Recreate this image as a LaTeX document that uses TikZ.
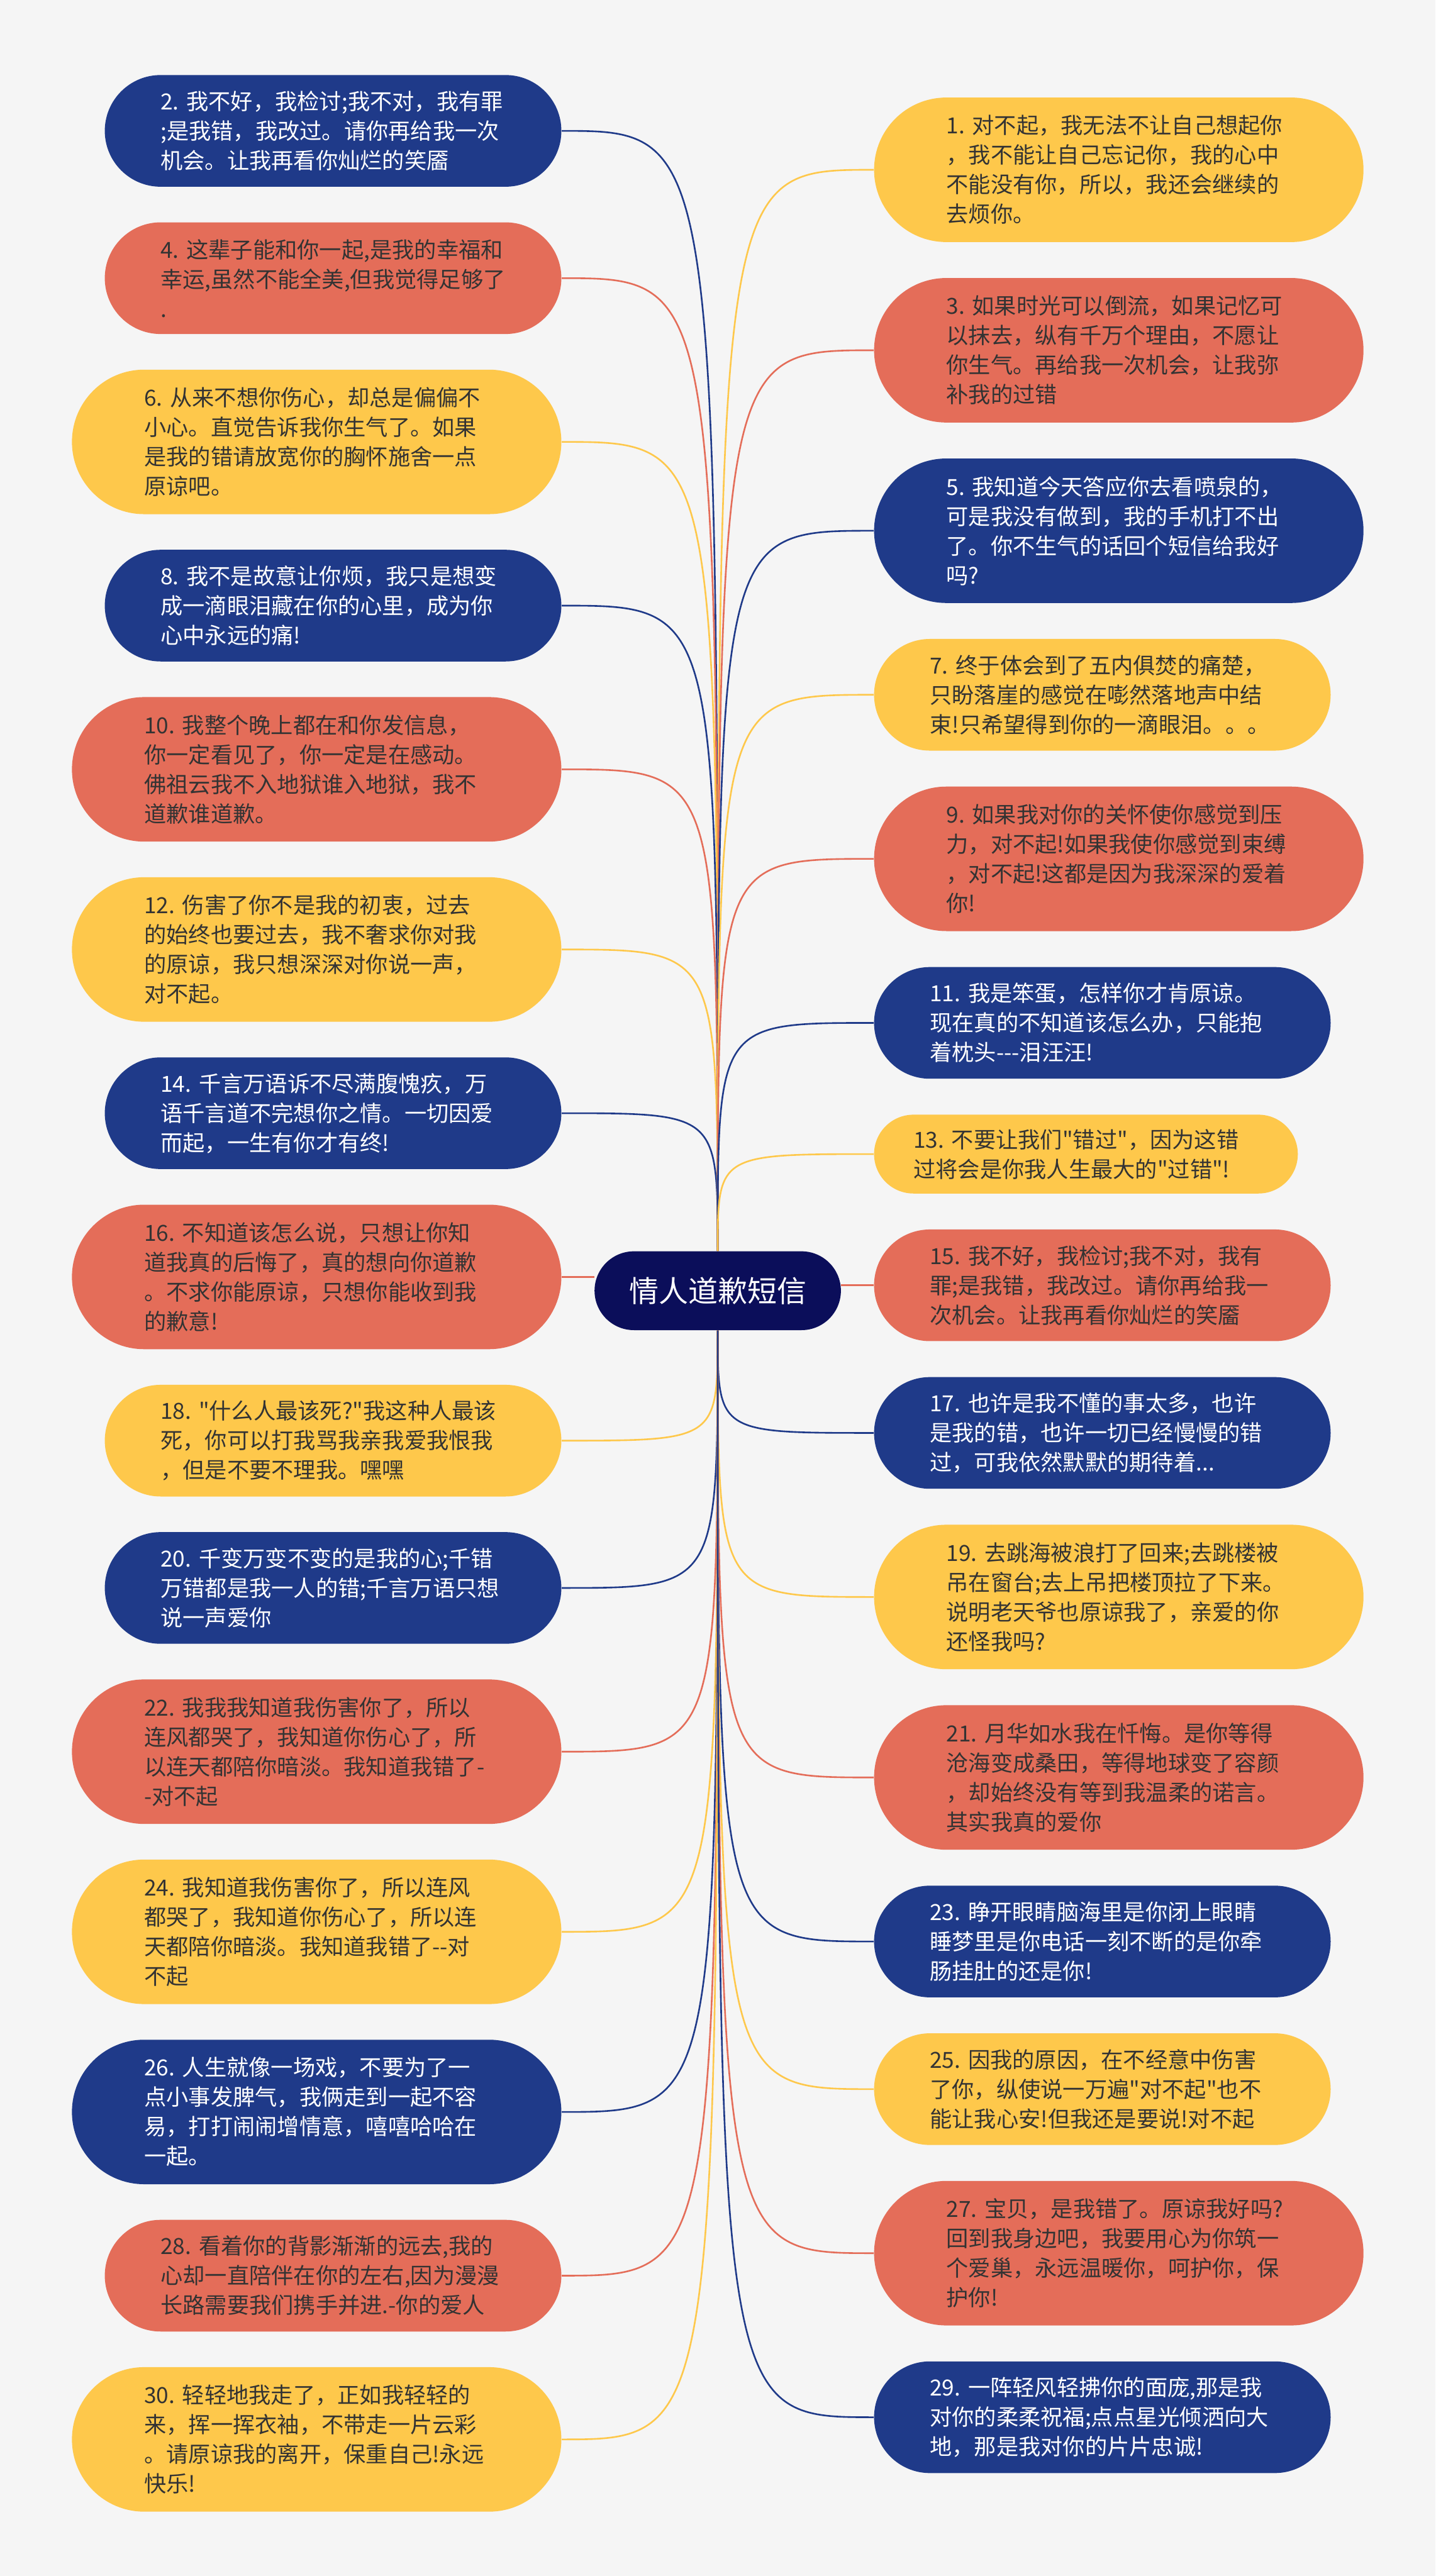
\documentclass[tikz,border=0pt]{standalone}
\usepackage{fontspec}
\newfontfamily\msgfont{Noto Sans CJK SC}
\usepackage{xcolor}
\usepackage{tikz}
\usetikzlibrary{positioning}
\definecolor{paper}{HTML}{F5F5F5}
\definecolor{hubnavy}{HTML}{0B0E5A}
\definecolor{msgblue}{HTML}{1F3A89}
\definecolor{coral}{HTML}{E46D59}
\definecolor{amber}{HTML}{FEC84B}
\definecolor{ink}{HTML}{333333}
\hyphenpenalty=10000
\exhyphenpenalty=10000

\begin{document}
\begin{tikzpicture}[
  x=1pt, y=-1pt,
  font=\msgfont\fontsize{13.5}{18}\selectfont,
  msg/.style={rectangle, text width=210pt, align=left, inner ysep=0pt},
  rows2/.style={minimum height=48pt, rounded corners=24pt, inner xsep=24pt},
  rows3/.style={minimum height=68pt, rounded corners=34pt, inner xsep=34pt},
  rows4/.style={minimum height=88pt, rounded corners=44pt, inner xsep=44pt},
  bluemsg/.style={fill=msgblue, text=white},
  coralmsg/.style={fill=coral, text=ink},
  ambermsg/.style={fill=amber, text=ink},
  hub/.style={fill=hubnavy, text=white, font=\msgfont\fontsize{18}{22}\selectfont, minimum height=48pt, rounded corners=24pt, inner xsep=21pt},
  link/.style={line width=1pt}
]
\fill[paper] (0,0) rectangle (874,1568.7);
\useasboundingbox (0,0) rectangle (874,1568.7);

\node[hub] (root) at (437,786) {情人道歉短信};

% left column
\node[msg, rows3, bluemsg, anchor=north east] (n2) at (342,45.5) {2.~我不好，我检讨;我不对，我有罪\\;是我错，我改过。请你再给我一次\\机会。让我再看你灿烂的笑靥};
\node[msg, rows3, coralmsg, below=21.3pt of n2.south east, anchor=north east] (n4) {4.~这辈子能和你一起,是我的幸福和\\幸运,虽然不能全美,但我觉得足够了\\.};
\node[msg, rows4, ambermsg, below=21.3pt of n4.south east, anchor=north east] (n6) {6.~从来不想你伤心，却总是偏偏不\\小心。直觉告诉我你生气了。如果\\是我的错请放宽你的胸怀施舍一点\\原谅吧。};
\node[msg, rows3, bluemsg, below=21.3pt of n6.south east, anchor=north east] (n8) {8.~我不是故意让你烦，我只是想变\\成一滴眼泪藏在你的心里，成为你\\心中永远的痛!};
\node[msg, rows4, coralmsg, below=21.3pt of n8.south east, anchor=north east] (n10) {10.~我整个晚上都在和你发信息，\\你一定看见了，你一定是在感动。\\佛祖云我不入地狱谁入地狱，我不\\道歉谁道歉。};
\node[msg, rows4, ambermsg, below=21.3pt of n10.south east, anchor=north east] (n12) {12.~伤害了你不是我的初衷，过去\\的始终也要过去，我不奢求你对我\\的原谅，我只想深深对你说一声，\\对不起。};
\node[msg, rows3, bluemsg, below=21.3pt of n12.south east, anchor=north east] (n14) {14.~千言万语诉不尽满腹愧疚，万\\语千言道不完想你之情。一切因爱\\而起，一生有你才有终!};
\node[msg, rows4, coralmsg, below=21.3pt of n14.south east, anchor=north east] (n16) {16.~不知道该怎么说，只想让你知\\道我真的后悔了，真的想向你道歉\\。不求你能原谅，只想你能收到我\\的歉意!};
\node[msg, rows3, ambermsg, below=21.3pt of n16.south east, anchor=north east] (n18) {18.~"什么人最该死?"我这种人最该\\死，你可以打我骂我亲我爱我恨我\\，但是不要不理我。嘿嘿};
\node[msg, rows3, bluemsg, below=21.3pt of n18.south east, anchor=north east] (n20) {20.~千变万变不变的是我的心;千错\\万错都是我一人的错;千言万语只想\\说一声爱你};
\node[msg, rows4, coralmsg, below=21.3pt of n20.south east, anchor=north east] (n22) {22.~我我我知道我伤害你了，所以\\连风都哭了，我知道你伤心了，所\\以连天都陪你暗淡。我知道我错了-\\-对不起};
\node[msg, rows4, ambermsg, below=21.3pt of n22.south east, anchor=north east] (n24) {24.~我知道我伤害你了，所以连风\\都哭了，我知道你伤心了，所以连\\天都陪你暗淡。我知道我错了-{}-对\\不起};
\node[msg, rows4, bluemsg, below=21.3pt of n24.south east, anchor=north east] (n26) {26.~人生就像一场戏，不要为了一\\点小事发脾气，我俩走到一起不容\\易，打打闹闹增情意，嘻嘻哈哈在\\一起。};
\node[msg, rows3, coralmsg, below=21.3pt of n26.south east, anchor=north east] (n28) {28.~看着你的背影渐渐的远去,我的\\心却一直陪伴在你的左右,因为漫漫\\长路需要我们携手并进.-你的爱人};
\node[msg, rows4, ambermsg, below=21.3pt of n28.south east, anchor=north east] (n30) {30.~轻轻地我走了，正如我轻轻的\\来，挥一挥衣袖，不带走一片云彩\\。请原谅我的离开，保重自己!永远\\快乐!};

% right column
\node[msg, rows4, ambermsg, anchor=north west] (n1) at (532,59.2) {1.~对不起，我无法不让自己想起你\\，我不能让自己忘记你，我的心中\\不能没有你，所以，我还会继续的\\去烦你。};
\node[msg, rows4, coralmsg, below=21.5pt of n1.south west, anchor=north west] (n3) {3.~如果时光可以倒流，如果记忆可\\以抹去，纵有千万个理由，不愿让\\你生气。再给我一次机会，让我弥\\补我的过错};
\node[msg, rows4, bluemsg, below=21.5pt of n3.south west, anchor=north west] (n5) {5.~我知道今天答应你去看喷泉的，\\可是我没有做到，我的手机打不出\\了。你不生气的话回个短信给我好\\吗?};
\node[msg, rows3, ambermsg, below=21.5pt of n5.south west, anchor=north west] (n7) {7.~终于体会到了五内俱焚的痛楚，\\只盼落崖的感觉在嘭然落地声中结\\束!只希望得到你的一滴眼泪。。。};
\node[msg, rows4, coralmsg, below=21.5pt of n7.south west, anchor=north west] (n9) {9.~如果我对你的关怀使你感觉到压\\力，对不起!如果我使你感觉到束缚\\，对不起!这都是因为我深深的爱着\\你!};
\node[msg, rows3, bluemsg, below=21.5pt of n9.south west, anchor=north west] (n11) {11.~我是笨蛋，怎样你才肯原谅。\\现在真的不知道该怎么办，只能抱\\着枕头-{}-{}-泪汪汪!};
\node[msg, rows2, ambermsg, below=21.5pt of n11.south west, anchor=north west] (n13) {13.~不要让我们"错过"，因为这错\\过将会是你我人生最大的"过错"!};
\node[msg, rows3, coralmsg, below=21.5pt of n13.south west, anchor=north west] (n15) {15.~我不好，我检讨;我不对，我有\\罪;是我错，我改过。请你再给我一\\次机会。让我再看你灿烂的笑靥};
\node[msg, rows3, bluemsg, below=21.5pt of n15.south west, anchor=north west] (n17) {17.~也许是我不懂的事太多，也许\\是我的错，也许一切已经慢慢的错\\过，可我依然默默的期待着...};
\node[msg, rows4, ambermsg, below=21.5pt of n17.south west, anchor=north west] (n19) {19.~去跳海被浪打了回来;去跳楼被\\吊在窗台;去上吊把楼顶拉了下来。\\说明老天爷也原谅我了，亲爱的你\\还怪我吗?};
\node[msg, rows4, coralmsg, below=21.5pt of n19.south west, anchor=north west] (n21) {21.~月华如水我在忏悔。是你等得\\沧海变成桑田，等得地球变了容颜\\，却始终没有等到我温柔的诺言。\\其实我真的爱你};
\node[msg, rows3, bluemsg, below=21.5pt of n21.south west, anchor=north west] (n23) {23.~睁开眼睛脑海里是你闭上眼睛\\睡梦里是你电话一刻不断的是你牵\\肠挂肚的还是你!};
\node[msg, rows3, ambermsg, below=21.5pt of n23.south west, anchor=north west] (n25) {25.~因我的原因，在不经意中伤害\\了你，纵使说一万遍"对不起"也不\\能让我心安!但我还是要说!对不起};
\node[msg, rows4, coralmsg, below=21.5pt of n25.south west, anchor=north west] (n27) {27.~宝贝，是我错了。原谅我好吗?\\回到我身边吧，我要用心为你筑一\\个爱巢，永远温暖你，呵护你，保\\护你!};
\node[msg, rows3, bluemsg, below=21.5pt of n27.south west, anchor=north west] (n29) {29.~一阵轻风轻拂你的面庞,那是我\\对你的柔柔祝福;点点星光倾洒向大\\地，那是我对你的片片忠诚!};

% links, left side
\draw[link, msgblue] (root.north) .. controls (root.north |- n2.east) .. (n2.east);
\draw[link, coral] (root.north) .. controls (root.north |- n4.east) .. (n4.east);
\draw[link, amber] (root.north) .. controls (root.north |- n6.east) .. (n6.east);
\draw[link, msgblue] (root.north) .. controls (root.north |- n8.east) .. (n8.east);
\draw[link, coral] (root.north) .. controls (root.north |- n10.east) .. (n10.east);
\draw[link, amber] (root.north) .. controls (root.north |- n12.east) .. (n12.east);
\draw[link, msgblue] (root.north) .. controls (root.north |- n14.east) .. (n14.east);
\draw[link, coral] (root.west |- n16.east) -- (n16.east);
\draw[link, amber] (root.south) .. controls (root.south |- n18.east) .. (n18.east);
\draw[link, msgblue] (root.south) .. controls (root.south |- n20.east) .. (n20.east);
\draw[link, coral] (root.south) .. controls (root.south |- n22.east) .. (n22.east);
\draw[link, amber] (root.south) .. controls (root.south |- n24.east) .. (n24.east);
\draw[link, msgblue] (root.south) .. controls (root.south |- n26.east) .. (n26.east);
\draw[link, coral] (root.south) .. controls (root.south |- n28.east) .. (n28.east);
\draw[link, amber] (root.south) .. controls (root.south |- n30.east) .. (n30.east);

% links, right side
\draw[link, amber] (root.north) .. controls (root.north |- n1.west) .. (n1.west);
\draw[link, coral] (root.north) .. controls (root.north |- n3.west) .. (n3.west);
\draw[link, msgblue] (root.north) .. controls (root.north |- n5.west) .. (n5.west);
\draw[link, amber] (root.north) .. controls (root.north |- n7.west) .. (n7.west);
\draw[link, coral] (root.north) .. controls (root.north |- n9.west) .. (n9.west);
\draw[link, msgblue] (root.north) .. controls (root.north |- n11.west) .. (n11.west);
\draw[link, amber] (root.north) .. controls (root.north |- n13.west) .. (n13.west);
\draw[link, coral] (root.east |- n15.west) -- (n15.west);
\draw[link, msgblue] (root.south) .. controls (root.south |- n17.west) .. (n17.west);
\draw[link, amber] (root.south) .. controls (root.south |- n19.west) .. (n19.west);
\draw[link, coral] (root.south) .. controls (root.south |- n21.west) .. (n21.west);
\draw[link, msgblue] (root.south) .. controls (root.south |- n23.west) .. (n23.west);
\draw[link, amber] (root.south) .. controls (root.south |- n25.west) .. (n25.west);
\draw[link, coral] (root.south) .. controls (root.south |- n27.west) .. (n27.west);
\draw[link, msgblue] (root.south) .. controls (root.south |- n29.west) .. (n29.west);
\end{tikzpicture}
\end{document}
